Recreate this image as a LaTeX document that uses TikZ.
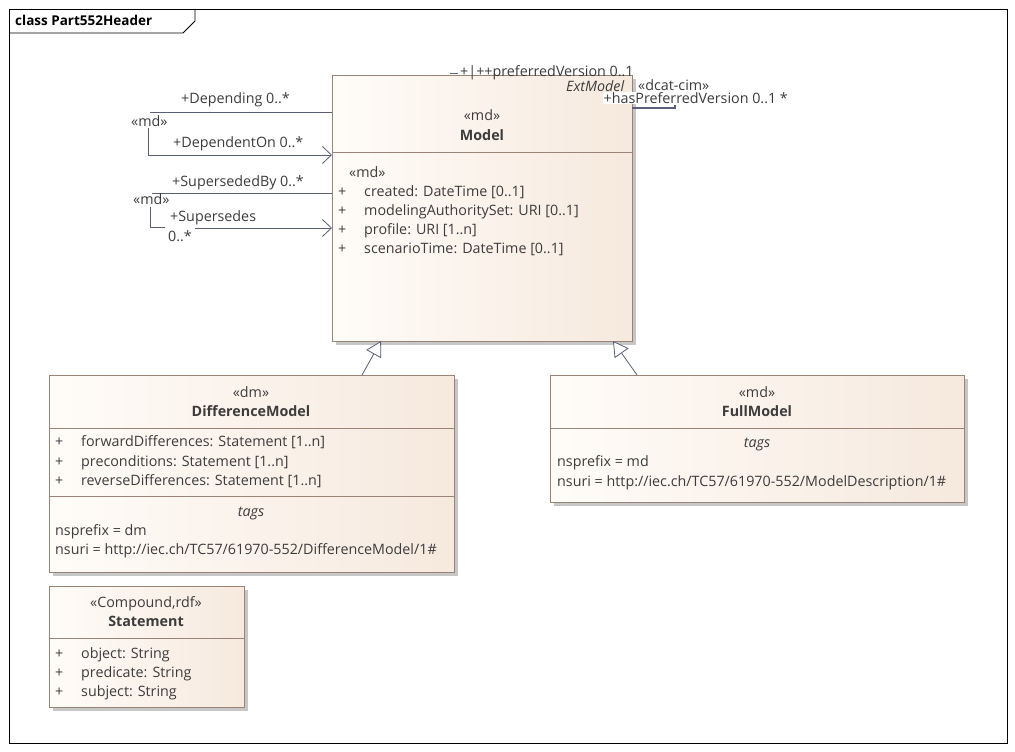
\documentclass[tikz,border=0pt]{standalone}
\usepackage{fontspec}
\setmainfont{Open Sans}
\usetikzlibrary{arrows.meta}
\definecolor{bd}{HTML}{9A8478}
\definecolor{fl1}{HTML}{FFFCF8}
\definecolor{fl2}{HTML}{F6E9DE}
\definecolor{tx}{HTML}{3C3C3C}
\definecolor{ln}{HTML}{5A5E78}
\begin{document}
\begin{tikzpicture}[x=1pt,y=-1pt,
  font=\fontsize{14.3}{16}\selectfont, text=tx,
  box/.style={draw=bd, line width=0.8pt, left color=fl1, right color=fl2, anchor=north west, inner sep=0pt},
  t/.style={anchor=base west, inner sep=0pt},
  c/.style={anchor=base, inner sep=0pt},
  sep/.style={draw=bd, line width=0.8pt},
  conn/.style={draw=ln, line width=0.8pt},
  gen/.style={conn, -{Triangle[open, length=15pt, width=17pt, fill=white]}},
  nav/.style={conn, -{Straight Barb[length=9pt, width=17pt]}},
  bold/.style={font=\fontsize{14.3}{16}\bfseries\selectfont},
  ital/.style={font=\fontsize{14.3}{16}\itshape\selectfont}]
\useasboundingbox (0,0) rectangle (1015,752);
\fill[white] (0,0) rectangle (1015,752);
\draw[black, line width=0.8pt] (9,9) rectangle (1007,743);
\draw[black, line width=0.8pt] (9,33) -- (183,33) -- (195,21) -- (195,9);
\node[t, font=\fontsize{13.5}{15}\bfseries\selectfont, text=black] (title) at (15,26) {class Part552Header};

% shadows
\fill[black!22] (336,79) rectangle (636,345);
\fill[black!22] (53,379) rectangle (458,576);
\fill[black!22] (554,379) rectangle (968,506);
\fill[black!22] (53,590) rectangle (248,711);

% Model
\node[box, minimum width=300, minimum height=266] (model) at (332,75) {};
\draw[sep] (332,152) -- (632,152);
\node[c] (mst) at (482,121) {«md»};
\node[c, bold] (mname) at (482,140) {Model};
\node[t] (ma0) at (349,177) {«md»};
\node[t] (ma1p) at (338,196) {+};
\node[t] (ma1) at (364,196) {created: DateTime [0..1]};
\node[t] (ma2p) at (338,215) {+};
\node[t] (ma2) at (364,215) {modelingAuthoritySet: URI [0..1]};
\node[t] (ma3p) at (338,234) {+};
\node[t] (ma3) at (364,234) {profile: URI [1..n]};
\node[t] (ma4p) at (338,253) {+};
\node[t] (ma4) at (364,253) {scenarioTime: DateTime [0..1]};

% DifferenceModel
\node[box, minimum width=405, minimum height=197] (dm) at (49,375) {};
\draw[sep] (49,428) -- (454,428);
\draw[sep] (49,496) -- (454,496);
\node[c] (dst) at (251,397) {«dm»};
\node[c, bold] (dname) at (251,416) {DifferenceModel};
\node[t] (d1p) at (55,446) {+};
\node[t] (d1) at (81,446) {forwardDifferences: Statement [1..n]};
\node[t] (d2p) at (55,466) {+};
\node[t] (d2) at (81,466) {preconditions: Statement [1..n]};
\node[t] (d3p) at (55,485) {+};
\node[t] (d3) at (81,485) {reverseDifferences: Statement [1..n]};
\node[c, ital] (dtags) at (251,516) {tags};
\node[t] (dns) at (55,535) {nsprefix = dm};
\node[t] (duri) at (55,554) {nsuri = http://iec.ch/TC57/61970-552/DifferenceModel/1\#};

% FullModel
\node[box, minimum width=414, minimum height=127] (fm) at (550,375) {};
\draw[sep] (550,428) -- (964,428);
\node[c] (fst) at (757,397) {«md»};
\node[c, bold] (fname) at (757,416) {FullModel};
\node[c, ital] (ftags) at (757,447) {tags};
\node[t] (fns) at (557,466) {nsprefix = md};
\node[t] (furi) at (557,486) {nsuri = http://iec.ch/TC57/61970-552/ModelDescription/1\#};

% Statement
\node[box, minimum width=195, minimum height=121] (st) at (49,586) {};
\draw[sep] (49,638) -- (244,638);
\node[c] (sst) at (146,607) {«Compound,rdf»};
\node[c, bold] (sname) at (146,626) {Statement};
\node[t] (s1p) at (55,658) {+};
\node[t] (s1) at (81,658) {object: String};
\node[t] (s2p) at (55,677) {+};
\node[t] (s2) at (81,677) {predicate: String};
\node[t] (s3p) at (55,696) {+};
\node[t] (s3) at (81,696) {subject: String};

% generalizations
\coordinate (g1a) at (362,375);
\coordinate (g1b) at (381,341);
\coordinate (g2a) at (637,375);
\coordinate (g2b) at (613,341);
\draw[gen] (g1a) -- (g1b);
\draw[gen] (g2a) -- (g2b);

% self associations
\coordinate (a1s) at (332,112);
\coordinate (a1e) at (332,155);
\draw[conn] (a1s) -- (150,112);
\draw[nav] (148,128) -- (148,155) -- (a1e);
\node[t] (a1l) at (131,126) {«md»};
\node[t] (a1r1) at (181,103) {+Depending 0..*};
\node[t] (a1r2) at (173,147) {+DependentOn 0..*};

\coordinate (a2s) at (332,193);
\coordinate (a2e) at (332,228);
\draw[conn] (a2s) -- (152,193);
\draw[conn] (150,207) -- (150,227) -- (165,227);
\draw[nav] (195,228) -- (a2e);
\node[t] (a2l) at (133,204) {«md»};
\node[t] (a2r1) at (172,186) {+SupersededBy 0..*};
\node[t] (a2r2) at (170,221) {+Supersedes};
\node[t] (a2r3) at (168,241) {0..*};

% top right association (truncated)
\coordinate (p1) at (450,73);
\coordinate (p2) at (458,73);
\draw[conn] (p1) -- (p2);
\node[t] (pv) at (460,77) {+\textbar++preferredVersion 0..1};
\coordinate (h1) at (632,108);
\coordinate (h2) at (675,108);
\draw[conn, line width=1.6pt] (h1) -- (h2) -- (675,105);
\node[t, ital] (ext) at (566,92) {ExtModel};
\node[t] (dc) at (638,91) {«dcat-cim»};
\node[t, fill=white, inner sep=0.5pt] (hp) at (603,103) {+hasPreferredVersion 0..1 *};
\end{tikzpicture}
\end{document}
